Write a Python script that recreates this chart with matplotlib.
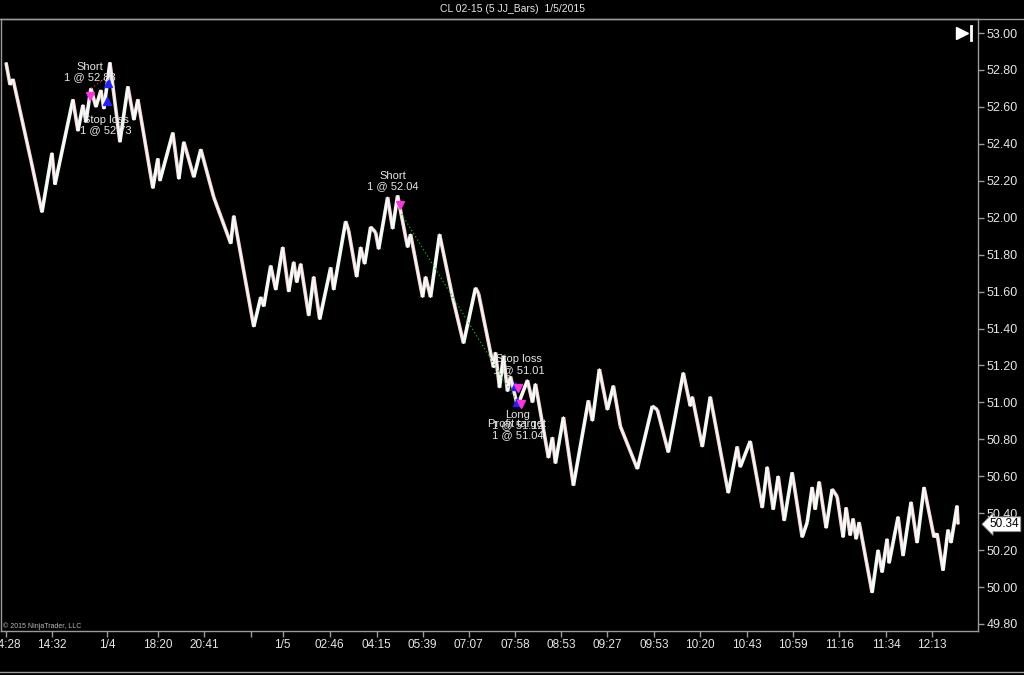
import matplotlib
matplotlib.use("Agg")
import matplotlib.pyplot as plt
from matplotlib.lines import Line2D
from matplotlib.transforms import blended_transform_factory
import numpy as np

plt.rcParams["font.family"] = ["Liberation Sans", "DejaVu Sans"]

TITLE = "CL 02-15 (5 JJ_Bars)  1/5/2015"
COPYRIGHT = "\u00a9 2015 NinjaTrader, LLC"

# swing points of the range-bar path (bar number, price)
pivot_bar = [5, 9, 12, 30, 41, 51, 54, 72, 77, 82, 85, 90, 95, 100, 103, 109,
             119, 127, 133, 137, 152, 157, 159, 172, 178, 183, 193, 200, 213,
             230, 233, 253, 260, 263, 270, 275, 282, 288, 293, 296, 300, 308,
             313, 319, 330, 333, 345, 348, 356, 360, 364, 370, 375, 378, 387,
             392, 397, 407, 410, 422, 425, 430, 439, 452, 463, 475, 478, 493,
             495, 499, 503, 507, 510, 517, 527, 532, 535, 548, 552, 555, 563,
             573, 588, 592, 599, 607, 613, 620, 637, 652, 657, 668, 683, 690,
             692, 702, 710, 728, 737, 740, 750, 762, 767, 773, 778, 784, 792,
             802, 807, 812, 815, 819, 826, 832, 837, 843, 846, 850, 853, 856,
             859, 872, 878, 882, 887, 889, 898, 903, 911, 917, 924, 934, 937,
             943, 948, 951, 957, 958]
pivot_price = [52.84, 52.72, 52.75, 52.31, 52.03, 52.35, 52.18, 52.64, 52.47,
               52.61, 52.52, 52.70, 52.60, 52.69, 52.59, 52.84, 52.41, 52.71,
               52.53, 52.64, 52.16, 52.32, 52.20, 52.46, 52.21, 52.41, 52.22,
               52.37, 52.11, 51.86, 52.01, 51.41, 51.57, 51.52, 51.74, 51.61,
               51.84, 51.60, 51.76, 51.65, 51.75, 51.47, 51.68, 51.45, 51.73,
               51.61, 51.98, 51.93, 51.68, 51.84, 51.75, 51.95, 51.92, 51.83,
               52.11, 51.94, 52.12, 51.84, 51.91, 51.57, 51.68, 51.57, 51.91,
               51.57, 51.32, 51.62, 51.59, 51.19, 51.27, 51.08, 51.25, 51.06,
               51.14, 50.98, 51.12, 51.00, 51.10, 50.70, 50.81, 50.67, 50.92,
               50.55, 51.01, 50.90, 51.18, 50.96, 51.09, 50.87, 50.64, 50.98,
               50.96, 50.73, 51.16, 50.98, 51.03, 50.76, 51.03, 50.51, 50.76,
               50.65, 50.79, 50.43, 50.65, 50.42, 50.60, 50.36, 50.62, 50.27,
               50.35, 50.54, 50.42, 50.57, 50.32, 50.53, 50.49, 50.27, 50.43,
               50.28, 50.37, 50.26, 50.35, 49.97, 50.20, 50.08, 50.26, 50.13,
               50.38, 50.17, 50.46, 50.24, 50.54, 50.27, 50.29, 50.09, 50.31,
               50.24, 50.44, 50.34]
last_price = 50.34

tick_bars = [5, 51, 106, 157, 203, 250, 282, 329, 376, 422, 468, 515, 561,
             607, 654, 700, 747, 793, 839, 886, 932]
tick_labels = ["14:28", "14:32", "1/4", "18:20", "20:41", "", "1/5", "02:46",
               "04:15", "05:39", "07:07", "07:58", "08:53", "09:27", "09:53",
               "10:20", "10:43", "10:59", "11:16", "11:34", "12:13"]

# executions drawn as arrows: bar, price, colour
exec_bar = [89, 107, 106, 399, 515, 517, 518, 521]
exec_price = [52.66, 52.73, 52.63, 52.07, 51.09, 51.00, 51.08, 50.99]
exec_color = ["#ff33dd", "#2222ff", "#2222ff", "#ff33dd", "#2222ff", "#2222ff", "#ff33dd", "#ff33dd"]
exec_marker = ["v", "^", "^", "v", "^", "^", "v", "v"]

# execution labels: bar, price, text
label_bar = [89, 105, 392, 518, 517, 517]
label_price = [52.79, 52.50, 52.20, 51.205, 50.905, 50.853]
label_text = ["Short\n1 @ 52.83", "Stop loss\n1 @ 52.73", "Short\n1 @ 52.04",
              "Stop loss\n1 @ 51.01", "Long\n1 @ 51.12", "Profit target\n1 @ 51.04"]

# trade connection lines: entry bar/price -> exit bar/price
trade_from = [(90, 52.70), (401, 52.02)]
trade_to = [(106, 52.76), (516, 51.01)]
trade_color = ["#dd2222", "#22aa22"]

TEXT = "#e6e6e6"
AXIS = "#9a9a9a"

fig = plt.figure(figsize=(10.24, 6.75), dpi=100, facecolor="black")
ax = fig.add_axes([0.001, 1 - 631 / 675, 978 / 1024 - 0.001, (631 - 19) / 675])
ax.set_facecolor("black")

# price path, rising legs a touch greener, falling legs pinkish like the bars
for i in range(len(pivot_bar) - 1):
    x0, x1 = pivot_bar[i], pivot_bar[i + 1]
    y0, y1 = pivot_price[i], pivot_price[i + 1]
    col = "#eef7f0" if y1 > y0 else "#f2d9d9"
    ax.plot([x0, x1], [y0, y1], color=col, lw=2.6, solid_capstyle="butt", zorder=2)
    ax.plot([x0, x1], [y0, y1], color="#ffffff", lw=0.8, zorder=3)

for (xa, ya), (xb, yb), c in zip(trade_from, trade_to, trade_color):
    ax.plot([xa, xb], [ya, yb], color=c, lw=0.9, ls=(0, (1, 2)), zorder=4)

for b, p, c, m in zip(exec_bar, exec_price, exec_color, exec_marker):
    ax.plot(b, p, marker=m, color=c, ms=6, mec=c, zorder=5)

for b, p, t in zip(label_bar, label_price, label_text):
    ax.text(b, p, t, color=TEXT, fontsize=8, ha="center", va="center",
            linespacing=1.05, zorder=6)

ax.set_xlim(0, 978)
ax.set_ylim(49.762, 53.076)

ax.set_xticks(tick_bars)
ax.set_xticklabels(tick_labels)
ax.set_yticks(np.arange(49.8, 53.001, 0.2))
ax.yaxis.set_major_formatter(matplotlib.ticker.FormatStrFormatter("%.2f"))
ax.yaxis.tick_right()
ax.tick_params(axis="both", colors=AXIS, labelcolor=TEXT, direction="out", length=4, width=1)
ax.tick_params(axis="x", labelsize=8.5, pad=2)
ax.tick_params(axis="y", labelsize=9, pad=2)
for side in ["top", "left", "right", "bottom"]:
    ax.spines[side].set_color(AXIS)
    ax.spines[side].set_linewidth(1)

# last price tag
trans = blended_transform_factory(ax.transAxes, ax.transData)
ax.text(1.012, last_price, f"{last_price:.2f}", transform=trans, color="black",
        fontsize=8.5, ha="left", va="center", clip_on=False, zorder=7,
        bbox=dict(boxstyle="larrow,pad=0.12", fc="white", ec="#888888", lw=0.6))

# "scroll to end" icon
ax.plot(0.984, 0.977, marker=">", color="white", ms=9, transform=ax.transAxes, clip_on=False)
ax.plot([0.9925, 0.9925], [0.966, 0.988], color="white", lw=2, transform=ax.transAxes, clip_on=False)

fig.text(0.5, 1 - 9 / 675, TITLE, color=TEXT, fontsize=7.5, ha="center", va="center")
fig.text(3 / 1024, 1 - 626 / 675, COPYRIGHT, color="#bbbbbb", fontsize=5, ha="left", va="center")

fig.add_artist(Line2D([0, 1], [1 - 19 / 675, 1 - 19 / 675], color=AXIS, lw=1))
fig.add_artist(Line2D([0, 1], [1 - 672 / 675, 1 - 672 / 675], color=AXIS, lw=1))

fig.savefig("out.png", dpi=100, facecolor="black")
